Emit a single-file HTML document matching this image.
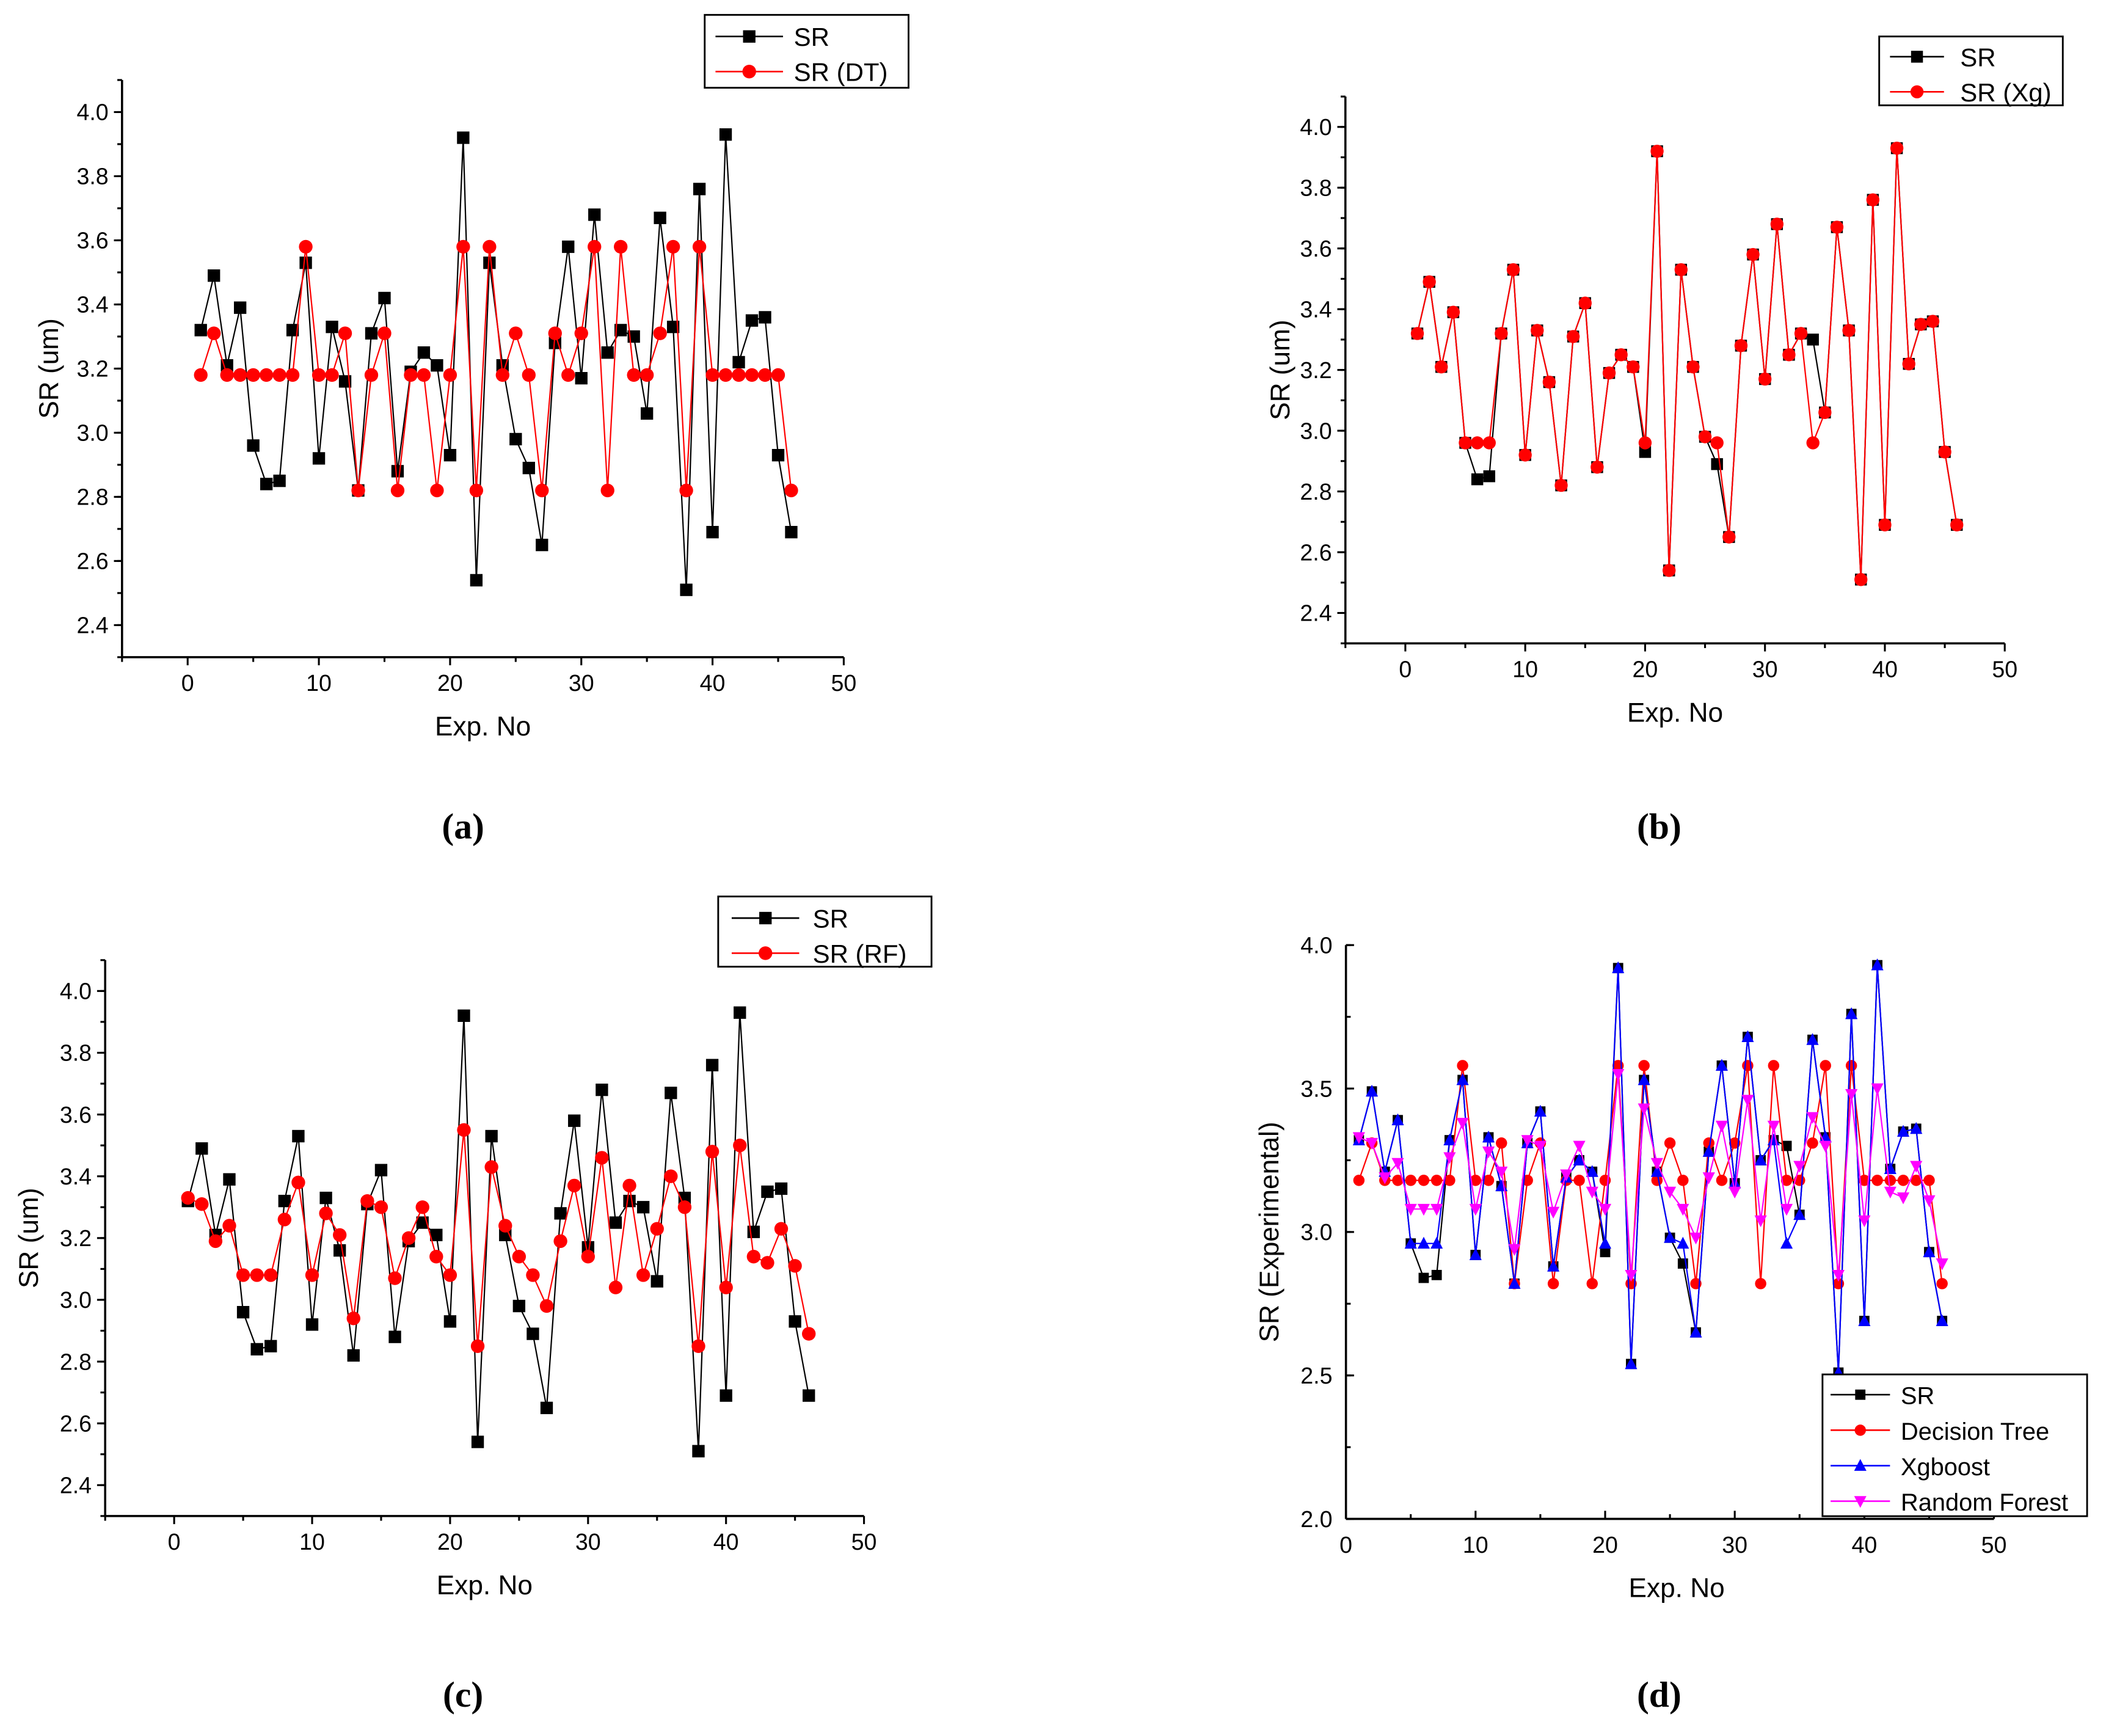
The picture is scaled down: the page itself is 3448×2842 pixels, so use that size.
<!DOCTYPE html>
<html><head><meta charset="utf-8"><style>
html,body{margin:0;padding:0;background:#fff}
svg{display:block}
text{font-family:"Liberation Sans",Arial,sans-serif;fill:#000}
.cap{font-family:"Liberation Serif",serif;font-weight:bold}
</style></head><body>
<svg id="fig" width="3448" height="2842" viewBox="0 0 1560 1285.8" xmlns="http://www.w3.org/2000/svg"></svg>
<script>
const expNo = Array.from({length:46},(_,i)=>i+1);
const srValues = [3.32,3.49,3.21,3.39,2.96,2.84,2.85,3.32,3.53,2.92,3.33,3.16,2.82,3.31,3.42,2.88,3.19,3.25,3.21,2.93,3.92,2.54,3.53,3.21,2.98,2.89,2.65,3.28,3.58,3.17,3.68,3.25,3.32,3.30,3.06,3.67,3.33,2.51,3.76,2.69,3.93,3.22,3.35,3.36,2.93,2.69];
const dtValues = [3.18,3.31,3.18,3.18,3.18,3.18,3.18,3.18,3.58,3.18,3.18,3.31,2.82,3.18,3.31,2.82,3.18,3.18,2.82,3.18,3.58,2.82,3.58,3.18,3.31,3.18,2.82,3.31,3.18,3.31,3.58,2.82,3.58,3.18,3.18,3.31,3.58,2.82,3.58,3.18,3.18,3.18,3.18,3.18,3.18,2.82];
const xgValues = [3.32,3.49,3.21,3.39,2.96,2.96,2.96,3.32,3.53,2.92,3.33,3.16,2.82,3.31,3.42,2.88,3.19,3.25,3.21,2.96,3.92,2.54,3.53,3.21,2.98,2.96,2.65,3.28,3.58,3.17,3.68,3.25,3.32,2.96,3.06,3.67,3.33,2.51,3.76,2.69,3.93,3.22,3.35,3.36,2.93,2.69];
const rfValues = [3.33,3.31,3.19,3.24,3.08,3.08,3.08,3.26,3.38,3.08,3.28,3.21,2.94,3.32,3.30,3.07,3.20,3.30,3.14,3.08,3.55,2.85,3.43,3.24,3.14,3.08,2.98,3.19,3.37,3.14,3.46,3.04,3.37,3.08,3.23,3.40,3.30,2.85,3.48,3.04,3.50,3.14,3.12,3.23,3.11,2.89];
const xTicks = [0,10,20,30,40,50];
const yTicksA = [2.4,2.6,2.8,3.0,3.2,3.4,3.6,3.8,4.0];
const yTicksD = [2.0,2.5,3.0,3.5,4.0];

const NS="http://www.w3.org/2000/svg";
const svg=document.getElementById('fig');
function mk(tag,attrs,parent){const e=document.createElementNS(NS,tag);for(const k in attrs)e.setAttribute(k,attrs[k]);(parent||svg).appendChild(e);return e;}

function marker(g,shape,x,y,color,s){
  let m;
  if(shape==='sq') m=mk('rect',{x:x-s,y:y-s,width:2*s,height:2*s,fill:color},g);
  else if(shape==='ci') m=mk('circle',{cx:x,cy:y,r:s*1.1,fill:color},g);
  else if(shape==='up') m=mk('polygon',{points:`${x},${y-s*1.3} ${x-s*1.2},${y+s} ${x+s*1.2},${y+s}`,fill:color},g);
  else m=mk('polygon',{points:`${x},${y+s*1.3} ${x-s*1.2},${y-s} ${x+s*1.2},${y-s}`,fill:color},g);
  return m;
}

function panel(p){
  const g=mk('g',{});
  
  
  const X=v=>p.x0+v*p.xs;
  const Y=v=>p.yRef-(v-p.yRefVal)*p.ys;
  const left=X(p.xmin), right=X(p.xmax), top=Y(p.ymax), bot=Y(p.ymin);
  const dir=p.inward?1:-1;
  const ax=mk('line',{x1:left,y1:bot,x2:right,y2:bot,stroke:'#000','stroke-width':1.6},g);
  
  const ay=mk('line',{x1:left,y1:bot,x2:left,y2:top,stroke:'#000','stroke-width':1.6},g);
  
  for(let v=p.xmin; v<=p.xmax+1e-9; v+=5){
    const major=Math.abs(v%10)<1e-9;
    mk('line',{x1:X(v),y1:bot,x2:X(v),y2:bot-dir*(major?6:3.5),stroke:'#000','stroke-width':1.4},g);
  }
  xTicks.forEach(v=>{const t=mk('text',{x:X(v),y:bot+25,'font-size':17,'text-anchor':'middle'},g);t.textContent=v;
    });
  p.yTicks.forEach((v,i)=>{
    mk('line',{x1:left,y1:Y(v),x2:left+dir*6,y2:Y(v),stroke:'#000','stroke-width':1.4},g);
    const t=mk('text',{x:left-10,y:Y(v)+6,'font-size':17,'text-anchor':'end'},g);t.textContent=p.yFmt(v);
    
  });
  for(let v=p.ymin; v<=p.ymax+1e-9; v+=p.minor){
    mk('line',{x1:left,y1:Y(v),x2:left+dir*3.5,y2:Y(v),stroke:'#000','stroke-width':1.4},g);
  }
  const xt=mk('text',{x:(X(p.xmin)+X(p.xmax))/2+p.xtOff,y:bot+58,'font-size':20,'text-anchor':'middle'},g);xt.textContent='Exp. No';
  
  const yc=(top+bot)/2;
  const yt=mk('text',{x:p.ytx,y:yc,'font-size':20,'text-anchor':'middle',transform:`rotate(-90 ${p.ytx} ${yc})`},g);yt.textContent=p.yTitle;
  
  p.series.forEach(s=>{
    const sg=mk('g',{},g);
    
    
    mk('polyline',{points:expNo.map((x,i)=>X(x)+','+Y(s.vals[i])).join(' '),fill:'none',stroke:s.color,'stroke-width':1},sg);
    expNo.forEach((x,i)=>{const m=marker(sg,s.shape,X(x),Y(s.vals[i]),s.color,p.ms);
      });
  });
  const L=p.leg;
  const lg=mk('g',{},g);
  
  mk('rect',{x:L.x,y:L.y,width:L.w,height:L.h,fill:'#fff',stroke:'#000','stroke-width':1.3},lg);
  p.series.forEach((s,i)=>{
    const cy=L.y+L.first+i*L.step;
    const eg=mk('g',{},lg);
    
    mk('line',{x1:L.x+L.lx1,y1:cy,x2:L.x+L.lx2,y2:cy,stroke:s.color,'stroke-width':1.2},eg);
    marker(eg,s.shape,L.x+(L.lx1+L.lx2)/2,cy,s.color,p.ms);
    const t=mk('text',{x:L.x+L.tx,y:cy+7,'font-size':L.fs},eg);t.textContent=s.label;
  });
  const c=mk('text',{x:p.capx,y:p.capy,'font-size':27,'text-anchor':'middle','class':'cap'});c.textContent=p.cap;
  
}

const f2=v=>v.toFixed(1);
panel({name:'panel-a',x0:139,xmin:-5,xmax:50,xs:9.72,yRef:83,yRefVal:4.0,ys:237.5,ymin:2.3,ymax:4.1,minor:0.1,yTicks:yTicksA,yFmt:f2,
  ytx:43,yTitle:'SR (um)',xtOff:0,ms:4.6,cap:'(a)',capx:343,capy:621,
  series:[{id:'sr',vals:srValues,color:'#000',shape:'sq',label:'SR'},{id:'dt',vals:dtValues,color:'#f00',shape:'ci',label:'SR (DT)'}],
  leg:{x:522,y:11,w:151,h:54,first:16,step:26,lx1:8,lx2:58,tx:66,fs:19}});
panel({name:'panel-b',x0:1041,xmin:-5,xmax:50,xs:8.88,yRef:94,yRefVal:4.0,ys:225,ymin:2.3,ymax:4.1,minor:0.1,yTicks:yTicksA,yFmt:f2,
  ytx:955,yTitle:'SR (um)',xtOff:0,ms:4.4,cap:'(b)',capx:1229,capy:621,
  series:[{id:'sr',vals:srValues,color:'#000',shape:'sq',label:'SR'},{id:'xg',vals:xgValues,color:'#f00',shape:'ci',label:'SR (Xg)'}],
  leg:{x:1392,y:27,w:136,h:51,first:15,step:26,lx1:8,lx2:48,tx:60,fs:19}});
panel({name:'panel-c',x0:129,xmin:-5,xmax:50,xs:10.22,yRef:734,yRefVal:4.0,ys:228.75,ymin:2.3,ymax:4.1,minor:0.1,yTicks:yTicksA,yFmt:f2,
  ytx:28,yTitle:'SR (um)',xtOff:0,ms:4.6,cap:'(c)',capx:343,capy:1264,
  series:[{id:'sr',vals:srValues,color:'#000',shape:'sq',label:'SR'},{id:'rf',vals:rfValues,color:'#f00',shape:'ci',label:'SR (RF)'}],
  leg:{x:532,y:664,w:158,h:52,first:16,step:26,lx1:10,lx2:60,tx:70,fs:19}});
panel({name:'panel-d',x0:997,xmin:0,xmax:50,xs:9.6,yRef:700,yRefVal:4.0,ys:212.5,ymin:2.0,ymax:4.0,minor:0.25,yTicks:yTicksD,yFmt:f2,inward:true,
  ytx:947,yTitle:'SR (Experimental)',xtOff:5,ms:3.8,cap:'(d)',capx:1229,capy:1264,
  series:[{id:'sr',vals:srValues,color:'#000',shape:'sq',label:'SR'},{id:'dt',vals:dtValues,color:'#f00',shape:'ci',label:'Decision Tree'},
          {id:'xg',vals:xgValues,color:'#00f',shape:'up',label:'Xgboost'},{id:'rf',vals:rfValues,color:'#f0f',shape:'dn',label:'Random Forest'}],
  leg:{x:1350,y:1018,w:196,h:105,first:15,step:26.3,lx1:6,lx2:50,tx:58,fs:18}});
</script>
</body></html>
